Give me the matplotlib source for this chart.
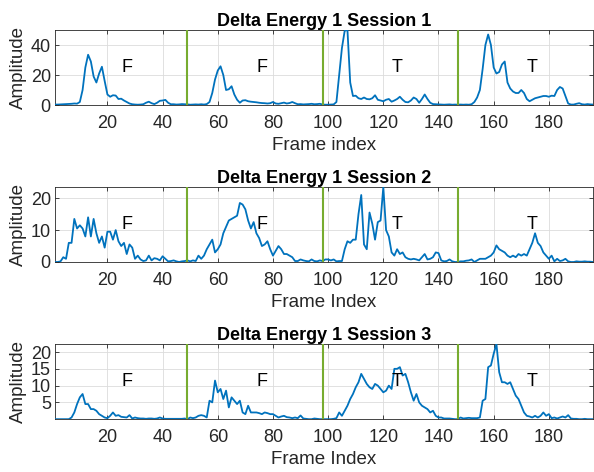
import numpy as np
import matplotlib
matplotlib.use("Agg")
import matplotlib.pyplot as plt

plt.rcParams['font.family'] = ['Liberation Sans', 'DejaVu Sans']

session1 = [
    0.3, 0.3, 0.4, 0.5, 0.6, 0.7, 0.8, 1.0, 0.9, 2.0,
    10, 25, 33.5, 29, 19, 15, 21, 25.5, 16, 7,
    5.5, 6.5, 6.3, 4, 4.2, 3, 2, 1, 0.5, 0.3,
    0.2, 0.3, 0.5, 1.5, 2.2, 1.2, 0.6, 1.5, 2.8, 3,
    3.4, 1.5, 0.5, 0.5, 0.3, 0.4, 0.6, 0.5, 0.4, 0.2,
    0.3, 0.4, 0.3, 0.5, 0.3, 0.6, 2, 8, 17, 23,
    25.8, 20, 10, 10.5, 12.5, 7, 3.5, 1.5, 3, 3.2,
    2.5, 2.2, 2, 1.8, 1.5, 1.3, 1.2, 1, 1.2, 2,
    1, 0.8, 1.2, 1.6, 1, 1.3, 2, 1.2, 0.5, 0.6,
    0.4, 0.5, 0.6, 0.8, 0.5, 0.6, 0.8, 0.3, 0.2, 0.2,
    0.3, 0.4, 2, 20, 38, 49.5, 50, 15, 6, 6.2,
    4.5, 4, 5, 4, 3.8, 4.5, 6.5, 3.5, 3, 2.5,
    3.5, 4, 2.2, 3, 4, 5.5, 3.5, 2, 1.8, 3,
    5, 4, 1.5, 4, 7, 4, 1.5, 0.6, 0.5, 0.4,
    0.3, 0.2, 0.3, 0.4, 0.2, 0.3, 0.2, 0.3, 0.2, 0.3,
    0.2, 0.5, 2, 5, 10, 24, 40, 47, 40, 25,
    21, 22, 27, 29, 15, 11, 9, 8, 8, 10,
    8, 4, 2.5, 3.5, 4.5, 5, 5.5, 6, 6, 5.5,
    6.2, 6, 10, 12, 11, 6, 1, 0.3, 0.3, 0.8,
    1.2, 0.5, 0.3, 0.6, 0.4, 0.3,
]

session2 = [
    0, 0, 0.2, 1.5, 1, 6, 6, 13.5, 10.5, 11.5,
    10.5, 8, 14, 8, 13.5, 9, 6, 8, 4.5, 9.5,
    9.5, 7, 10, 6.5, 5, 6, 2.5, 5.5, 4.5, 1,
    2, 0.8, 0.3, 0.5, 2, 0.5, 1.2, 1, 0.5, 1.8,
    1, 0.2, 0.3, 0.5, 0.2, 0, 0.2, 0.3, 0.5, 0.2,
    0.5, 0.3, 2, 1, 2, 4, 5.5, 7, 3, 4,
    5.5, 9, 11, 13, 13.5, 14, 14.5, 18.5, 18, 16.5,
    13, 10.5, 12.5, 9, 7.5, 5, 5.5, 6.5, 4, 2,
    3.5, 5, 4, 2.5, 2.5, 2, 1.5, 0.3, 0.3, 0.8,
    0.5, 0.3, 0.2, 0.8, 0.3, 0.2, 0.5, 0.3, 0.8, 0.8,
    0.5, 0.8, 0.2, 0.3, 0.3, 4, 6.5, 6, 7, 7,
    15, 21, 5.5, 4, 15.5, 12, 7, 12.5, 13, 23.5,
    10, 8, 3, 2, 4, 2.5, 3, 1.5, 1, 0.8,
    1, 0.8, 0.5, 1.5, 2.5, 0.8, 1, 1.5, 3, 2.8,
    0.5, 0.2, 0.3, 0.8, 0.2, 0, 0, 0.2, 0.2, 0.4,
    0.5, 0.8, 0, 0.5, 1, 1, 1, 1.5, 2, 3,
    5.2, 4, 3.5, 3, 2, 1.5, 2, 1.5, 2.5, 2,
    2.5, 2, 4, 6, 9, 6, 5, 3, 2, 1,
    2, 0.2, 1, 0.3, 0.5, 1, 0.2, 0, 0, 0.2,
    0.1, 0.1, 0.2, 0.1, 0.1, 0,
]

session3 = [
    0, 0, 0, 0, 0, 0, 0.5, 2, 4.5, 6.5,
    7.5, 4.5, 4.5, 3, 3, 2.5, 1.5, 1, 0.5, 0.3,
    1, 2, 1, 1.2, 0.7, 0.6, 0.5, 1.2, 0.2, 0.5,
    0.3, 0.2, 0.2, 0.1, 0.2, 0.2, 0.1, 0.2, 0.5, 0.2,
    0.1, 0.1, 0.1, 0.1, 0.1, 0.1, 0.1, 0.2, 0, 0.5,
    0.3, 0.5, 1, 1.2, 1, 0.5, 5.5, 5, 11.5, 8,
    9, 6, 8.5, 3.5, 6.5, 5.5, 4.5, 5.5, 2, 1.5,
    4, 2, 2, 2, 1.8, 1.5, 2, 1.8, 1.5, 1.5,
    1, 0.5, 0.8, 1, 0.6, 0.5, 0.3, 0.5, 0.3, 1.1,
    0.2, 0.1, 0, 0, 0.2, 0.1, 0, 0, 0, 0,
    0, 0.1, 0.3, 2, 1, 2.5, 4, 6, 7.5, 9.5,
    11, 13.5, 12, 10.5, 9.5, 9, 10.5, 10, 9, 8,
    8.5, 10, 9, 15, 15, 15.5, 13, 13.5, 11, 8,
    5.5, 7.5, 5, 4, 3.5, 3, 2, 2.5, 1, 0.5,
    0.5, 0.2, 0.2, 0.2, 0.1, 0, 0, 0.5, 0.2, 0.3,
    0.4, 0.3, 0.3, 0.3, 0.5, 5.5, 6, 15.5, 16, 19.5,
    22.4, 14, 11, 11, 10.5, 11, 9, 7, 6, 4,
    2, 1, 0.8, 0.5, 1, 0.5, 1, 2, 1, 1.5,
    0.3, 0.5, 0.2, 0.5, 0.8, 0.5, 1.2, 0.2, 0.1, 0.1,
    0, 0, 0.1, 0, 0, 0,
]

titles = ["Delta Energy 1 Session 1", "Delta Energy 1 Session 2", "Delta Energy 1 Session 3"]
xlabels = ["Frame index", "Frame Index", "Frame Index"]
ylims = [(0, 50), (0, 23.5), (0.05, 22.4)]
yticks = [[0, 20, 40], [0, 10, 20], [5, 10, 15, 20]]
xticks = [20, 40, 60, 80, 100, 120, 140, 160, 180]
boundaries = [49, 98, 147]
label_x = [25, 74, 123, 172]
label_text = ["F", "F", "T", "T"]
label_y = [25, 11.75, 11.2]

series = [session1, session2, session3]

fig = plt.figure(figsize=(5.94, 4.72), dpi=100)
W, H = 594, 472
axes_px = [(30, 105), (187, 262), (344, 419)]
left_px, right_px = 55, 593

ax_color = '#262626'
for k, (top, bot) in enumerate(axes_px):
    ax = fig.add_axes([left_px / W, 1 - bot / H, (right_px - left_px) / W, (bot - top) / H])
    y = np.array(series[k])
    x = np.arange(1, len(y) + 1)
    ax.plot(x, y, color='#0072BD', lw=1.3, zorder=3)
    for b in boundaries:
        ax.axvline(b, color='#77AC30', lw=1.5, zorder=4)
    for lx, lt in zip(label_x, label_text):
        ax.text(lx, label_y[k], lt, fontsize=13, color='black', ha='left', va='center', zorder=5)
    ax.set_xlim(1, 196)
    ax.set_ylim(*ylims[k])
    ax.set_xticks(xticks)
    ax.set_yticks(yticks[k])
    ax.grid(True, color='#dcdcdc', lw=0.6)
    ax.set_axisbelow(True)
    ax.tick_params(direction='in', top=True, right=True, labelsize=13, colors=ax_color, length=3, width=0.6)
    ax.tick_params(axis='x', pad=7)
    ax.tick_params(axis='y', pad=3)
    for s in ax.spines.values():
        s.set_color(ax_color)
        s.set_linewidth(0.6)
    ax.set_title(titles[k], fontsize=13, fontweight='bold', pad=3)
    ax.set_xlabel(xlabels[k], fontsize=13.5, color=ax_color, labelpad=4)
    ax.set_ylabel("Amplitude", fontsize=13.5, color=ax_color, labelpad=3)

fig.savefig("out.png", dpi=100)
